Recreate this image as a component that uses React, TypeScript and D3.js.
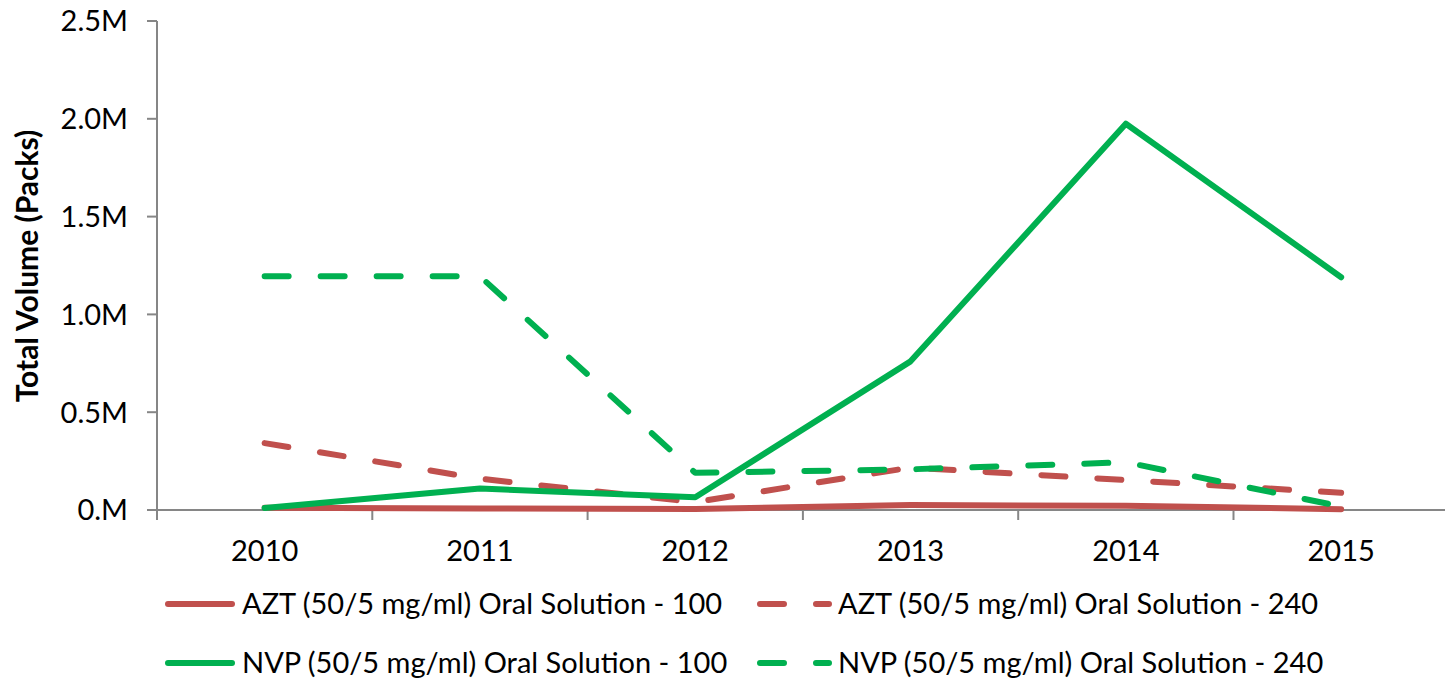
import React from "react";
import * as d3 from "d3";

const years = ["2010", "2011", "2012", "2013", "2014", "2015"];
const azt100 = [0.012, 0.008, 0.005, 0.025, 0.022, 0.004];
const azt240 = [0.342, 0.16, 0.04, 0.217, 0.153, 0.088];
const nvp100 = [0.01, 0.11, 0.065, 0.76, 1.975, 1.19];
const nvp240 = [1.195, 1.195, 0.19, 0.208, 0.244, 0.018];
const yTicks = [0, 0.5, 1.0, 1.5, 2.0, 2.5];
const yTickLabels = ["0.M", "0.5M", "1.0M", "1.5M", "2.0M", "2.5M"];
const seriesNames = [
  "AZT (50/5 mg/ml) Oral Solution - 100",
  "AZT (50/5 mg/ml) Oral Solution - 240",
  "NVP (50/5 mg/ml) Oral Solution - 100",
  "NVP (50/5 mg/ml) Oral Solution - 240",
];
const yTitle = "Total Volume (Packs)";

const RED = "#C0504D";
const GREEN = "#00B050";
const AXIS = "#868686";
const FONT = "Lato, 'Open Sans', sans-serif";

export default function App() {
  const W = 1445;
  const H = 681;
  const left = 157;
  const bandW = 215.3;
  const x = d3.scaleBand<string>().domain(years).range([left, left + bandW * years.length]).padding(0);
  const y = d3.scaleLinear().domain([0, 2.5]).range([510, 21]);
  const cx = (yr: string) => (x(yr) as number) + x.bandwidth() / 2;
  const line = d3
    .line<number>()
    .x((_, i) => cx(years[i]))
    .y((v) => y(v));

  const series = [
    { name: seriesNames[0], data: azt100, color: RED, dashed: false },
    { name: seriesNames[1], data: azt240, color: RED, dashed: true },
    { name: seriesNames[2], data: nvp100, color: GREEN, dashed: false },
    { name: seriesNames[3], data: nvp240, color: GREEN, dashed: true },
  ];
  const dash = "24 32";
  const boundaries = years.map((yr) => x(yr) as number).concat([left + bandW * years.length]);

  const legendPos = [
    { x1: 168, x2: 232, tx: 242, y: 604 },
    { x1: 760, x2: 829, tx: 838, y: 604 },
    { x1: 168, x2: 232, tx: 242, y: 663 },
    { x1: 760, x2: 829, tx: 838, y: 663 },
  ];

  return (
    <svg width={W} height={H} style={{ position: "absolute", left: 0, top: 0, background: "#fff" }} fontFamily={FONT}>
      <rect x={0} y={0} width={W} height={H} fill="#fff" />
      {/* y axis */}
      <line x1={left} x2={left} y1={y(2.5)} y2={520} stroke={AXIS} strokeWidth={2} />
      {yTicks.map((t, i) => (
        <g key={t}>
          <line x1={147} x2={left} y1={y(t)} y2={y(t)} stroke={AXIS} strokeWidth={2} />
          <text x={128} y={y(t)} dy="0.36em" textAnchor="end" fontSize={29} fill="#000">
            {yTickLabels[i]}
          </text>
        </g>
      ))}
      {/* x axis */}
      <line x1={left} x2={W} y1={y(0)} y2={y(0)} stroke={AXIS} strokeWidth={2} />
      {boundaries.map((b, i) => (
        <line key={i} x1={b} x2={b} y1={y(0)} y2={520} stroke={AXIS} strokeWidth={2} />
      ))}
      {years.map((yr) => (
        <text key={yr} x={cx(yr)} y={551} dy="0.36em" textAnchor="middle" fontSize={29} fill="#000">
          {yr}
        </text>
      ))}
      {/* y title */}
      <text
        transform={`translate(27,266) rotate(-90)`}
        textAnchor="middle"
        dy="0.36em"
        fontSize={30}
        fontWeight="bold"
        fill="#000"
      >
        {yTitle}
      </text>
      {/* series */}
      {series.map((s) => (
        <path
          key={s.name}
          d={line(s.data) as string}
          fill="none"
          stroke={s.color}
          strokeWidth={6}
          strokeLinejoin="round"
          strokeLinecap="round"
          strokeDasharray={s.dashed ? dash : undefined}
        />
      ))}
      {/* legend */}
      {series.map((s, i) => {
        const p = legendPos[i];
        return (
          <g key={s.name}>
            <line
              x1={p.x1}
              x2={p.x2}
              y1={p.y}
              y2={p.y}
              stroke={s.color}
              strokeWidth={6}
              strokeLinecap="round"
              strokeDasharray={s.dashed ? dash : undefined}
            />
            <text x={p.tx} y={p.y} dy="0.36em" fontSize={29} fill="#000">
              {s.name}
            </text>
          </g>
        );
      })}
    </svg>
  );
}
